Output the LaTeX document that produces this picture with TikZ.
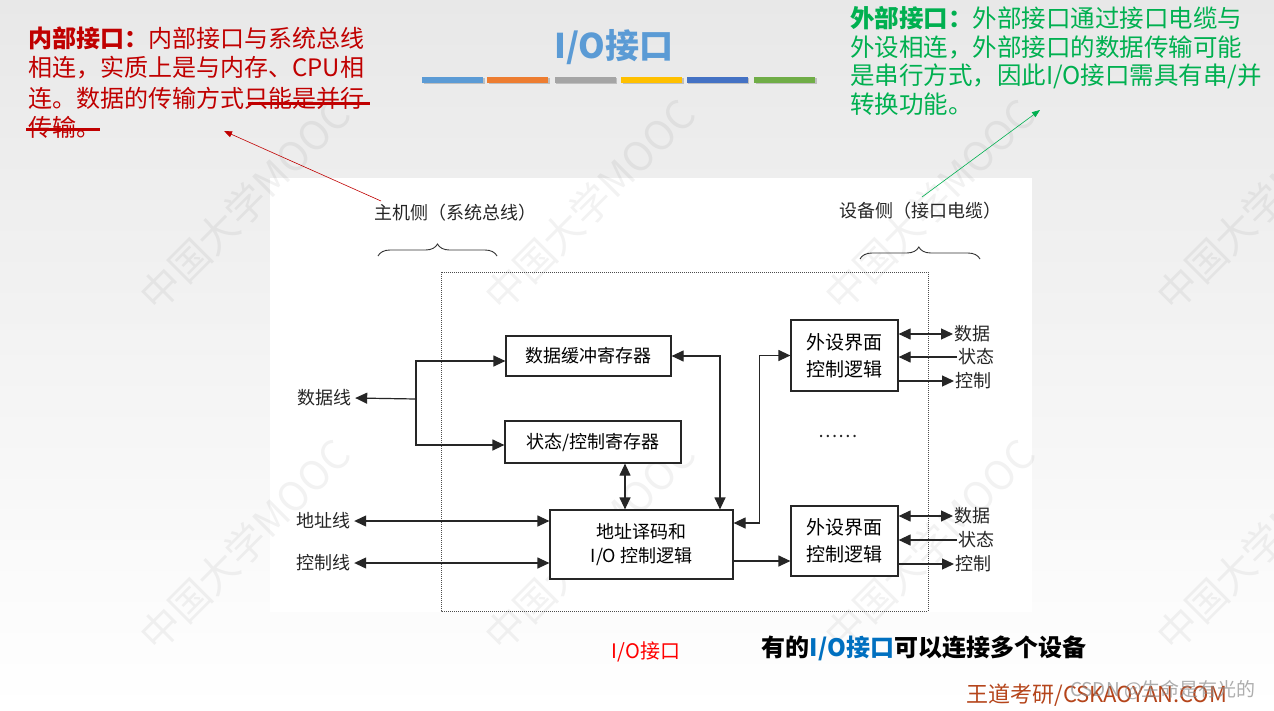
\documentclass[tikz,border=0pt]{standalone}
\usepackage{fontspec}
\setmainfont{Noto Sans CJK SC}
\usetikzlibrary{arrows.meta,decorations.pathreplacing}
\definecolor{innerred}{HTML}{C00000}
\definecolor{outergreen}{HTML}{00B050}
\definecolor{titleblue}{HTML}{5B9BD5}
\definecolor{barorange}{HTML}{ED7D31}
\definecolor{bargray}{HTML}{A5A5A5}
\definecolor{bargold}{HTML}{FFC000}
\definecolor{barblue}{HTML}{4472C4}
\definecolor{bargreen}{HTML}{70AD47}
\definecolor{linkblue}{HTML}{0070C0}
\definecolor{brandred}{HTML}{B5451B}
\begin{document}
\begin{tikzpicture}[x=1pt,y=-1pt,
  blk/.style={draw=black!85, line width=1.2pt, fill=white, inner sep=0pt, align=center,
    font=\fontsize{18}{24}\selectfont},
  lbl/.style={inner sep=1.5pt, font=\fontsize{18}{22}\selectfont, text=black!85},
  wire/.style={line width=1.2pt, draw=black!85},
  arr/.style={wire, -{Triangle[length=12pt,width=11pt]}},
  arrtwo/.style={wire, {Triangle[length=12pt,width=11pt]}-{Triangle[length=12pt,width=11pt]}},
  redtxt/.style={anchor=west, inner sep=0pt, text=innerred, font=\fontsize{24}{28}\selectfont},
  greentxt/.style={anchor=west, inner sep=0pt, text=outergreen, font=\fontsize{24.5}{28}\selectfont},
  wm/.style={rotate=45, text=black, opacity=0.05, font=\fontsize{40}{44}\selectfont},
  bar/.style={minimum width=61pt, minimum height=6pt, inner sep=0pt}
]
\useasboundingbox (0,0) rectangle (1274,710);
\shade[top color=black!9, bottom color=white] (0,0) rectangle (1274,710);

% diagram picture area
\fill[white] (270,178) rectangle (1032,612);

% watermarks
\foreach \i/\x/\y in {1/245/205,2/590/205,3/930/205,4/1262/205,5/245/545,6/590/545,7/930/545,8/1262/545}
  \node[wm] (wm\i) at (\x,\y) {中国大学MOOC};

% title and color bars
\node[text=titleblue, font=\bfseries\fontsize{34}{38}\selectfont] (title) at (614,47) {I/O接口};
\foreach \i/\x/\c in {1/452.5/titleblue,2/517.5/barorange,3/585/bargray,4/651.5/bargold,5/717/barblue,6/784.5/bargreen}{
  \fill[black!25] (\x-29,78) rectangle (\x+32,84);
  \node[bar, fill=\c] (bar\i) at (\x,80) {};
}

% inner interface text
\node[redtxt] (r1) at (28,38) {\textbf{内部接口：}内部接口与系统总线};
\node[redtxt] (r2) at (28,68) {相连，实质上是与内存、CPU相};
\node[redtxt] (r3) at (28,98) {连。数据的传输方式只能是并行};
\node[redtxt] (r4) at (28,127) {传输。};
\draw[innerred, line width=3pt] (248,103) -- (370,103);
\draw[innerred, line width=3pt] (26,129) -- (100,129);

% outer interface text
\node[greentxt] (g1) at (850,18) {\textbf{外部接口：}外部接口通过接口电缆与};
\node[greentxt] (g2) at (850,47) {外设相连，外部接口的数据传输可能};
\node[greentxt] (g3) at (850,76) {是串行方式，因此I/O接口需具有串/并};
\node[greentxt] (g4) at (850,104) {转换功能。};

% side labels and braces
\node[lbl] (host) at (455,213) {主机侧（系统总线）};
\node[lbl] (dev) at (920,211) {设备侧（接口电缆）};
\coordinate (hb1) at (378,256);
\coordinate (hb2) at (497,256);
\coordinate (db1) at (860,259);
\coordinate (db2) at (980,259);
\draw[black!80, line width=0.9pt, decoration={brace, amplitude=12pt, aspect=0.5}, decorate] (hb1) -- (hb2);
\draw[black!80, line width=0.9pt, decoration={brace, amplitude=12pt, aspect=0.49}, decorate] (db1) -- (db2);

% annotation arrows
\coordinate (ra) at (381,201);
\coordinate (ga) at (922,197);
\coordinate (rt) at (224,131);
\coordinate (gt) at (1040,110);
\draw[innerred, line width=0.6pt, -{Triangle[length=8pt,width=6pt]}] (ra) -- (rt);
\draw[outergreen, line width=0.6pt, -{Triangle[length=8pt,width=6pt]}] (ga) -- (gt);

% dotted interface boundary
\draw[black!70, line width=1pt, densely dotted] (441,272) rectangle (928,611);

% blocks
\node[blk, minimum width=165pt, minimum height=40pt] (b1) at (588.5,356) {数据缓冲寄存器};
\node[blk, minimum width=176pt, minimum height=42pt] (b2) at (593,442) {状态/控制寄存器};
\node[blk, minimum width=183pt, minimum height=69pt] (b3) at (641.5,544.5) {地址译码和\\I/O 控制逻辑};
\node[blk, minimum width=107pt, minimum height=71pt, font=\fontsize{19}{27}\selectfont] (b4) at (844.5,355.5) {外设界面\\控制逻辑};
\node[blk, minimum width=107pt, minimum height=70pt, font=\fontsize{19}{27}\selectfont] (b5) at (844.5,541) {外设界面\\控制逻辑};
\node[lbl] (dots) at (838,436) {……};

% host side lines
\node[lbl, inner sep=4pt] (dl) at (324,398) {数据线};
\node[lbl, inner sep=4pt] (al) at (323,521) {地址线};
\node[lbl, inner sep=4pt] (cl) at (323,563) {控制线};
\coordinate (j) at (416,399);
\draw[arr] (j) -- (dl.east);
\draw[arr] (j) |- ([yshift=-5pt]b1.west);
\draw[arr] (j) |- ([yshift=-3pt]b2.west);
\draw[arrtwo] (al.east) -- (al.east -| b3.west);
\draw[arrtwo] (cl.east) -- (cl.east -| b3.west);

% internal lines
\draw[arrtwo] (b1.east) -| ([xshift=78.5pt]b3.north);
\draw[arrtwo] ([xshift=32pt]b2.south) -- ([xshift=32pt]b2.south |- b3.north);
\draw[arrtwo] (b4.west) -- ++(-31,0) |- ([yshift=21.5pt]b3.east);
\draw[arr] ([yshift=-16.5pt]b3.east) -- ([yshift=-16.5pt]b3.east -| b5.west);

% device side signals
\node[lbl, anchor=west] (d1) at (953,334) {数据};
\node[lbl, anchor=west] (s1) at (957,357) {状态};
\node[lbl, anchor=west] (c1) at (954,381) {控制};
\draw[arrtwo] (b4.east |- d1.west) -- (d1.west);
\draw[arr] (s1.west) -- (s1.west -| b4.east);
\draw[arr] (b4.east |- c1.west) -- (c1.west);
\node[lbl, anchor=west] (d2) at (953,516) {数据};
\node[lbl, anchor=west] (s2) at (957,540) {状态};
\node[lbl, anchor=west] (c2) at (954,564) {控制};
\draw[arrtwo] (b5.east |- d2.west) -- (d2.west);
\draw[arr] (s2.west) -- (s2.west -| b5.east);
\draw[arr] (b5.east |- c2.west) -- (c2.west);

% bottom captions
\node[text=red, font=\fontsize{20}{24}\selectfont] (cap) at (646,652) {I/O接口};
\node[font=\bfseries\fontsize{24}{27}\selectfont] (note) at (924,648) {有的\textcolor{linkblue}{I/O接口}可以连接多个设备};
\node[text=brandred, font=\fontsize{22}{25}\selectfont] (brand) at (1097,695) {王道考研/CSKAOYAN.COM};
\node[text=black!45, opacity=0.7, font=\fontsize{19}{22}\selectfont] (csdn) at (1163,690) {CSDN @生命是有光的};
\end{tikzpicture}
\end{document}
